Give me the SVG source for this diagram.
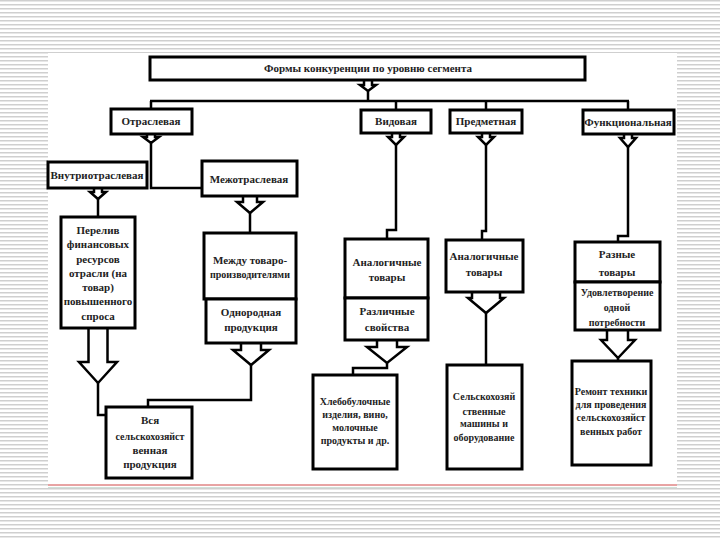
<svg xmlns="http://www.w3.org/2000/svg" width="720" height="540" viewBox="0 0 720 540">
<defs>
<pattern id="st" width="4" height="4" patternUnits="userSpaceOnUse"><rect width="4" height="1.5" fill="#cfcfcf"/></pattern>
<style>
.box{fill:#fff;stroke:#000;stroke-width:3}
.t{font-family:"Liberation Serif","Times New Roman",serif;font-weight:bold;font-size:11px;fill:#222;text-anchor:middle}
.s{font-size:10px}
.c{fill:none;stroke:#000;stroke-width:2.5}
.ar{fill:#fff;stroke:#000;stroke-width:2.5}
</style>
</defs>
<rect width="720" height="540" fill="#fff"/>
<rect width="720" height="540" fill="url(#st)"/>
<rect x="48" y="53" width="629" height="435" fill="#fff"/>
<line x1="48" y1="485" x2="677" y2="485" stroke="#d04848" stroke-width="1"/>
<line x1="48" y1="487.5" x2="677" y2="487.5" stroke="#cfe0d8" stroke-width="1"/>

<g id="connectors">
<path class="c" d="M368 91V101M150 101H629M151 101V109M396 101V110M486 101V110M628 101V110"/>
<path class="ar" d="M364 80V85H360L368 91L376 85H372V80"/>
<path class="ar" d="M147 134V137H143L151 143L159 137H155V134"/>
<path class="c" d="M151 143V188H202"/>
<path class="ar" d="M94 188V192H90L98 199L106 192H102V188"/>
<path class="c" d="M98 199V217"/>
<path class="ar" d="M243 196V202H237L250 213L263 202H257V196"/>
<path class="c" d="M250 213V233"/>
<path class="ar" d="M392 133V137H388L396 145L404 137H400V133"/>
<path class="c" d="M396 145V230H387V239"/>
<path class="ar" d="M482 133V137H478L486 145L494 137H490V133"/>
<path class="c" d="M486 145V231H482V240"/>
<path class="ar" d="M624 134V138H620L628 147L636 138H632V134"/>
<path class="c" d="M628 147V236H618V242"/>
<path class="ar" d="M88.5 328V362H79L98 383L117 362H107.5V328"/>
<path class="c" d="M98 383V415H106"/>
<path class="ar" d="M241 343V350H233L251 365L269 350H261V343"/>
<path class="c" d="M251 365V400H148V407"/>
<path class="ar" d="M377 340V347H367L387 363L407 347H397V340"/>
<path class="c" d="M387 363V368H353V375"/>
<path class="ar" d="M472 292V298H468L486 313L504 298H500V292"/>
<path class="c" d="M486 313V365"/>
<path class="ar" d="M607 330V340H601L618 358L635 340H628V330"/>
<path class="c" d="M618 358V361"/>
</g>

<g id="n-top"><rect class="box" x="150" y="57" width="435" height="23"/><text class="t" x="368" y="72">Формы конкуренции по уровню сегмента</text></g>
<g id="n-otr"><rect class="box" x="111" y="109" width="81" height="25"/><text class="t" x="151" y="125">Отраслевая</text></g>
<g id="n-vid"><rect class="box" x="361" y="110" width="70" height="23"/><text class="t" x="396" y="125">Видовая</text></g>
<g id="n-pred"><rect class="box" x="450" y="110" width="72" height="23"/><text class="t" x="486" y="125">Предметная</text></g>
<g id="n-func"><rect class="box" x="583" y="110" width="91" height="24"/><text class="t" x="628" y="126">Функциональная</text></g>
<g id="n-vnutri"><rect class="box" x="48" y="162" width="99" height="26"/><text class="t" x="97" y="179">Внутриотраслевая</text></g>
<g id="n-mezh"><rect class="box" x="202" y="161" width="95" height="35"/><text class="t" x="249" y="183">Межотраслевая</text></g>
<g id="n-perel"><rect class="box" x="61" y="217" width="74" height="111"/>
<text class="t" x="98" y="234">Перелив</text><text class="t" x="98" y="248">финансовых</text><text class="t" x="98" y="263">ресурсов</text><text class="t" x="98" y="277">отрасли (на</text><text class="t" x="98" y="291">товар)</text><text class="t" x="98" y="305">повышенного</text><text class="t" x="98" y="320">спроса</text></g>
<g id="n-mezhdu"><rect class="box" x="204" y="233" width="92" height="66"/><text class="t" x="250" y="264">Между товаро-</text><text class="t s" x="250" y="278">производителями</text></g>
<g id="n-odnor"><rect class="box" x="206" y="299" width="90" height="44"/><text class="t" x="251" y="316">Однородная</text><text class="t" x="251" y="331">продукция</text></g>
<g id="n-vsya"><rect class="box" x="106" y="407" width="86" height="71"/><text class="t" x="150" y="424">Вся</text><text class="t s" x="150" y="440">сельскохозяйст</text><text class="t" x="150" y="454">венная</text><text class="t" x="150" y="468">продукция</text></g>
<g id="n-analog1"><rect class="box" x="345" y="239" width="83" height="59"/><text class="t" x="387" y="266">Аналогичные</text><text class="t" x="387" y="281">товары</text></g>
<g id="n-razl"><rect class="box" x="345" y="298" width="83" height="42"/><text class="t" x="387" y="315">Различные</text><text class="t" x="387" y="331">свойства</text></g>
<g id="n-khleb"><rect class="box" x="313" y="375" width="84" height="94"/><text class="t s" x="355" y="405">Хлебобулочные</text><text class="t s" x="355" y="418">изделия, вино,</text><text class="t s" x="355" y="431">молочные</text><text class="t s" x="355" y="444">продукты и др.</text></g>
<g id="n-analog2"><rect class="box" x="446" y="240" width="77" height="52"/><text class="t" x="484" y="260">Аналогичные</text><text class="t" x="484" y="276">товары</text></g>
<g id="n-selkh"><rect class="box" x="447" y="365" width="75" height="104"/><text class="t s" x="484" y="400">Сельскохозяй</text><text class="t s" x="484" y="415">ственные</text><text class="t s" x="484" y="427">машины и</text><text class="t s" x="484" y="441">оборудование</text></g>
<g id="n-raznye"><rect class="box" x="575" y="242" width="85" height="40"/><text class="t" x="617" y="258">Разные</text><text class="t" x="617" y="276">товары</text></g>
<g id="n-udovl"><rect class="box" x="575" y="282" width="85" height="48"/><text class="t s" x="617" y="296">Удовлетворение</text><text class="t s" x="617" y="311">одной</text><text class="t s" x="617" y="326">потребности</text></g>
<g id="n-remont"><rect class="box" x="572" y="361" width="79" height="104"/><text class="t s" x="611" y="395">Ремонт техники</text><text class="t s" x="611" y="408">для проведения</text><text class="t s" x="611" y="421">сельскохозяйст</text><text class="t s" x="611" y="435">венных работ</text></g>
</svg>
